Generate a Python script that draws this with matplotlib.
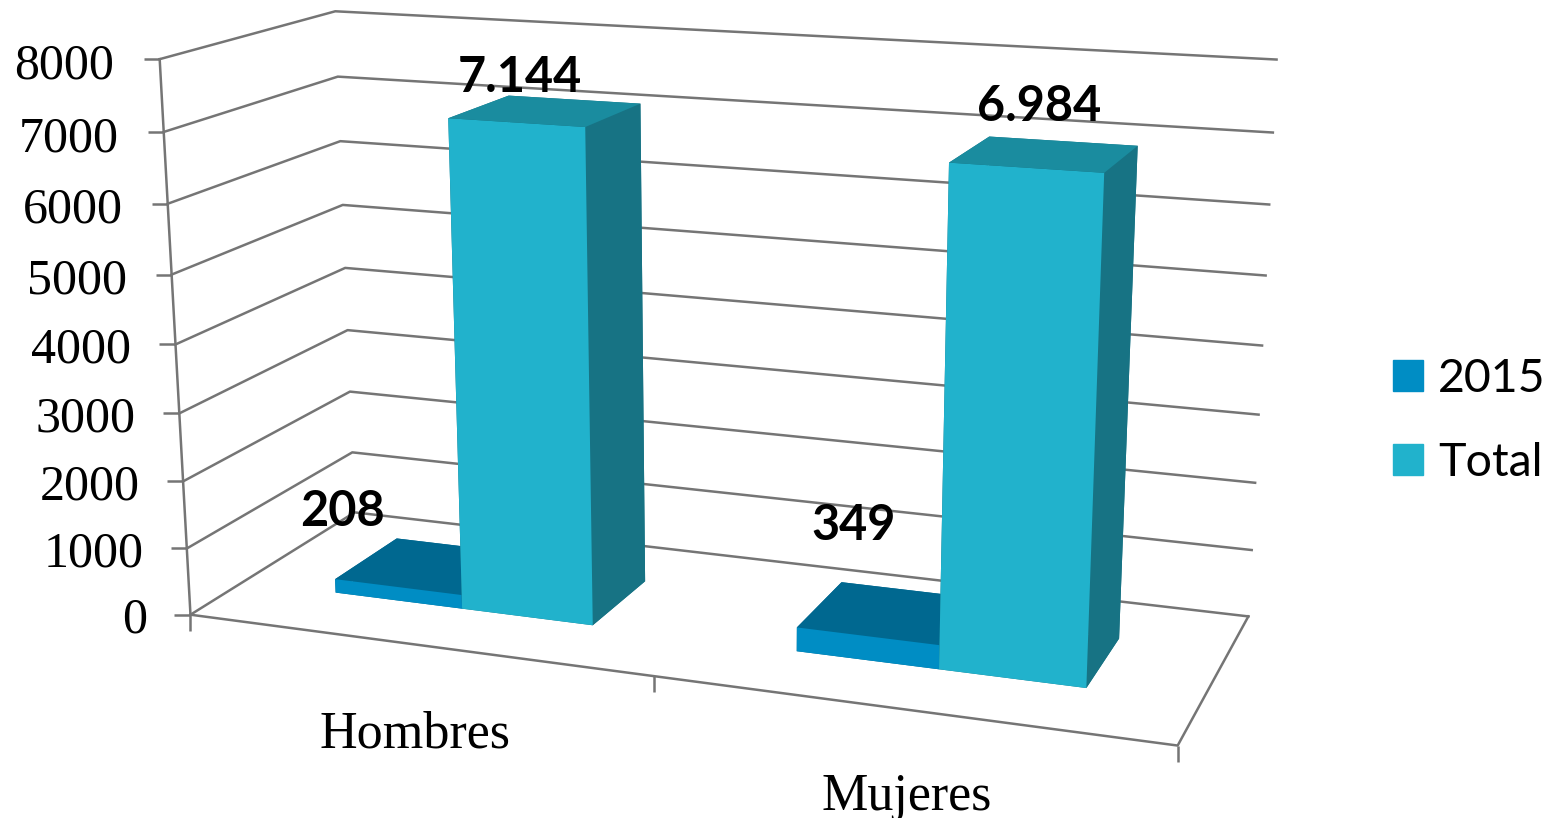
import numpy as np
import matplotlib
matplotlib.use("Agg")
import matplotlib.pyplot as plt
from matplotlib.patches import Patch

categories = ["Hombres", "Mujeres"]
values_2015 = [208, 349]
values_total = [7144, 6984]
label_2015 = ["208", "349"]
label_total = ["7.144", "6.984"]
yticks = [0, 1000, 2000, 3000, 4000, 5000, 6000, 7000, 8000]

W, H = 1547, 818
# camera: fit a projective matrix from the chart box corners to their pixels
world = np.array([(0,0,0),(0,0,8000),(0,1,0),(0,1,8000),(2,1,0),(2,1,8000),(2,0,0),(1,0,0),
                  (0,0,4000),(0,1,4000),(2,1,4000)], float)
pix = np.array([(190,613),(160,60),(356,513),(335,11),(1248,616),(1277,60),(1178,744),(653,680),
                (176,343),(344,268),(1262,345)], float)
scale = np.array([1, 1, 1/8000])
A = []
for (X, Y, Z), (u, v) in zip(world*scale, pix):
    v = H - v
    A.append([X,Y,Z,1,0,0,0,0,-u*X,-u*Y,-u*Z,-u])
    A.append([0,0,0,0,X,Y,Z,1,-v*X,-v*Y,-v*Z,-v])
P = np.linalg.svd(np.array(A))[2][-1].reshape(3,4)
P = P / P[2,3]
P[:,2] /= 8000
M = np.array([P[0], P[1], [-0.3, 1.0, -0.5/8000, 0.0], P[2]])

fig = plt.figure(figsize=(W/100, H/100), dpi=100, facecolor="white")
ax = fig.add_axes([0,0,1,1], projection="3d", computed_zorder=False)
ax.set_proj_type("ortho")
ax.get_proj = lambda: M
ax.apply_aspect = lambda position=None: None
ax.viewLim.intervalx = (0, W)
ax.viewLim.intervaly = (0, H)
ax.set_axis_off()
ax.set_xticks([])
ax.set_yticks([])
ax.set_zticks([])

def label3d(x, y, z, s, **kw):
    """Place a flat text at the picture position of a point of the 3D box."""
    h = M @ np.array([x, y, z, 1.0])
    fig.text(h[0]/h[3]/W, h[1]/h[3]/H, s, **kw)

GRID = "#757575"
LW = 1.8
for v in yticks:
    ax.plot([0,0,2],[0,1,1],[v,v,v], color=GRID, lw=LW, zorder=1)
    ax.plot([0],[0],[v], marker=0, ms=11.5, mew=LW, color=GRID, zorder=1)
    label3d(-0.09, -0.025, v-115, str(v), ha="right", va="center", fontsize=36,
            family="Liberation Serif", color="black", zorder=6)
ax.plot([0,0],[0,0],[0,8000], color=GRID, lw=LW, zorder=1)
ax.plot([0,2,2],[0,0,1],[0,0,0], color=GRID, lw=LW, zorder=1)
for x in [0,1,2]:
    ax.plot([x],[0],[0], marker=3, ms=11.5, mew=LW, color=GRID, zorder=1)

c15 = ["#006890","#006890","#008DC4","#006890","#006890","#006890"]
ct = ["#177384","#1A8C9F","#21B2CC","#177384","#177384","#177384"]
xs = np.arange(2.0)
w, y0, dy = 0.286, 0.306, 0.395
x15 = xs + 0.212
xt = x15 + w
ax.bar3d(x15, [y0]*2, [0]*2, [w]*2, [dy]*2, values_2015, color=c15*2, shade=False, zorder=2, linewidth=0)
ax.bar3d(xt, [y0]*2, [0]*2, [w]*2, [dy]*2, values_total, color=ct*2, shade=False, zorder=3, linewidth=0)

bold = dict(ha="center", va="center", fontsize=35, family="Lato", weight="bold", color="black", zorder=7)
label3d(0.583, 0.517, 7575, label_total[0], **bold)
label3d(1.599, 0.665, 7460, label_total[1], **bold)
label3d(0.134, 0.573, 770, label_2015[0], **bold)
label3d(1.179, 0.961, 770, label_2015[1], **bold)
cat_kw = dict(ha="center", va="center", fontsize=37.5, family="Liberation Serif", color="black", zorder=7)
label3d(0.509, -0.043, -1245, categories[0], **cat_kw)
label3d(1.502, -0.001, -1235, categories[1], **cat_kw)

fig.legend(handles=[Patch(color="#008DC4", label="2015"), Patch(color="#21B2CC", label="Total")],
           loc="center left", bbox_to_anchor=(1393/W, 1-421/H), frameon=False, borderaxespad=0, borderpad=0,
           handlelength=0.64, handleheight=0.64, handletextpad=0.33, labelspacing=0.9,
           prop={"family":"Lato","size":33.5})
fig.savefig("out.png", dpi=100)
